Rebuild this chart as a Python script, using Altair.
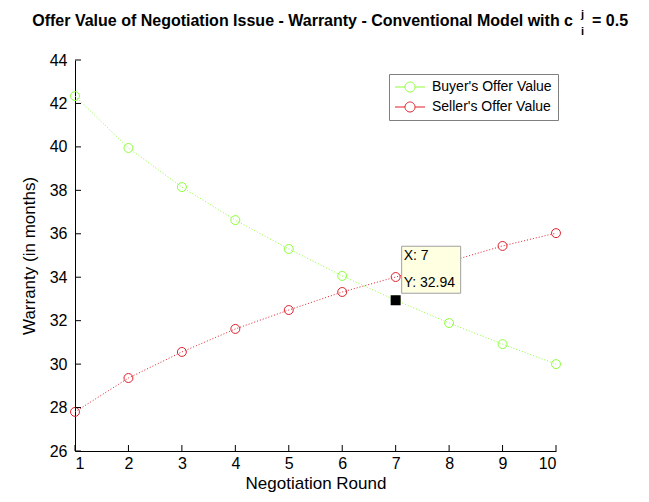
import altair as alt
import pandas as pd

# ---- data ----
rounds = [1, 2, 3, 4, 5, 6, 7, 8, 9, 10]
buyer = [42.34, 39.95, 38.15, 36.63, 35.30, 34.06, 32.94, 31.89, 30.92, 30.00]
seller = [27.80, 29.36, 30.56, 31.62, 32.49, 33.32, 34.01, 34.72, 35.44, 36.03]
series_names = ["Buyer's Offer Value", "Seller's Offer Value"]
series_colors = ["#8cff3a", "#e0202c"]
x_ticks = [1, 2, 3, 4, 5, 6, 7, 8, 9, 10]
y_ticks = [26, 28, 30, 32, 34, 36, 38, 40, 42, 44]
tip_x = [7]
tip_y = [32.94]
title_main = "Offer Value of Negotiation Issue - Warranty - Conventional Model with c"
title_sup = "j"
title_sub = "i"
title_end = "= 0.5"

W, H = 481, 391
FONT = "Liberation Sans"

df = pd.DataFrame({
    "round": rounds * 2,
    "value": buyer + seller,
    "series": [series_names[0]] * len(rounds) + [series_names[1]] * len(rounds),
})

xs = alt.Scale(domain=[1, 10], nice=False, zero=False)
ys = alt.Scale(domain=[26, 44], nice=False, zero=False)
cs = alt.Scale(domain=series_names, range=series_colors)
XT = "Negotiation Round"
YT = "Warranty (in months)"

legend = alt.Legend(
    title=None, orient="none", legendX=314, legendY=14,
    symbolType="M-3,0L-1,0M1,0L3,0M-1,0A1,1,0,1,1,1,0A1,1,0,1,1,-1,0",
    symbolSize=100, symbolStrokeWidth=1, symbolFillColor="transparent",
    symbolDash=[1, 0],
    labelFont=FONT, labelFontSize=14, labelColor="black",
    labelOffset=15, symbolOffset=8, padding=6, rowPadding=6,
    strokeColor="#808080", fillColor="white",
)

base = alt.Chart(df).encode(
    x=alt.X("round:Q", scale=xs, title=XT, axis=alt.Axis(values=x_ticks, format="d")),
    y=alt.Y("value:Q", scale=ys, title=YT, axis=alt.Axis(values=y_ticks, format="d")),
    color=alt.Color("series:N", scale=cs, legend=legend),
)
lines = base.mark_line(strokeDash=[1, 2], strokeWidth=1).encode(detail="series:N")
points = base.mark_point(shape="circle", filled=False, size=80, strokeWidth=1, opacity=1)

xt = alt.Chart(pd.DataFrame({"round": x_ticks})).mark_rule(color="black", strokeWidth=1).encode(
    x=alt.X("round:Q", scale=xs, title=XT), y=alt.value(H), y2=alt.value(H - 6)
)
yt = alt.Chart(pd.DataFrame({"value": y_ticks})).mark_rule(color="black", strokeWidth=1).encode(
    y=alt.Y("value:Q", scale=ys, title=YT), x=alt.value(0), x2=alt.value(6)
)

tipdf = pd.DataFrame({
    "round": tip_x, "value": tip_y,
    "lx": [f"X: {v:g}" for v in tip_x],
    "ly": [f"Y: {v:.2f}" for v in tip_y],
})
tip_base = alt.Chart(tipdf).encode(
    x=alt.X("round:Q", scale=xs, title=XT), y=alt.Y("value:Q", scale=ys, title=YT)
)
tip_sq = tip_base.mark_square(size=100, color="black", opacity=1)
tip_box = tip_base.mark_rect(width=59, height=47, xOffset=35.5, yOffset=-30.5,
                             fill="#ffffe1", stroke="#a0a0a0", strokeWidth=1)
tip_t1 = tip_base.mark_text(align="left", baseline="alphabetic", dx=8, dy=-40,
                            font=FONT, fontSize=14, color="black").encode(text="lx:N")
tip_t2 = tip_base.mark_text(align="left", baseline="alphabetic", dx=8, dy=-13,
                            font=FONT, fontSize=14, color="black").encode(text="ly:N")

def ttext(t, x, y, size, align):
    return alt.Chart(pd.DataFrame({"t": [t]})).mark_text(
        align=align, baseline="alphabetic", font=FONT, fontSize=size,
        fontWeight="bold", color="black"
    ).encode(text="t:N", x=alt.value(x), y=alt.value(y))

title_layers = [
    ttext(title_main, 498, -34, 16, "right"),
    ttext(title_sup, 506, -42, 11, "left"),
    ttext(title_sub, 506, -25, 11, "left"),
    ttext(title_end, 517, -34, 16, "left"),
]

chart = alt.layer(lines, points, xt, yt, tip_sq, tip_box, tip_t1, tip_t2, *title_layers).properties(
    width=W, height=H,
    autosize=alt.AutoSizeParams(type="none"),
    padding={"left": 67, "top": 52, "right": 78, "bottom": 43},
).configure_view(stroke=None).configure_axis(
    domainColor="black", domainWidth=1, ticks=False, tickSize=0, grid=False,
    labelFont=FONT, labelFontSize=16, labelColor="black",
    titleFont=FONT, titleFontSize=17, titleFontWeight="normal", titleColor="black",
).configure_axisX(labelPadding=4, titlePadding=4).configure_axisY(labelPadding=8, titlePadding=11)

chart.save("out.html", embed_options={"renderer": "svg", "actions": False})
